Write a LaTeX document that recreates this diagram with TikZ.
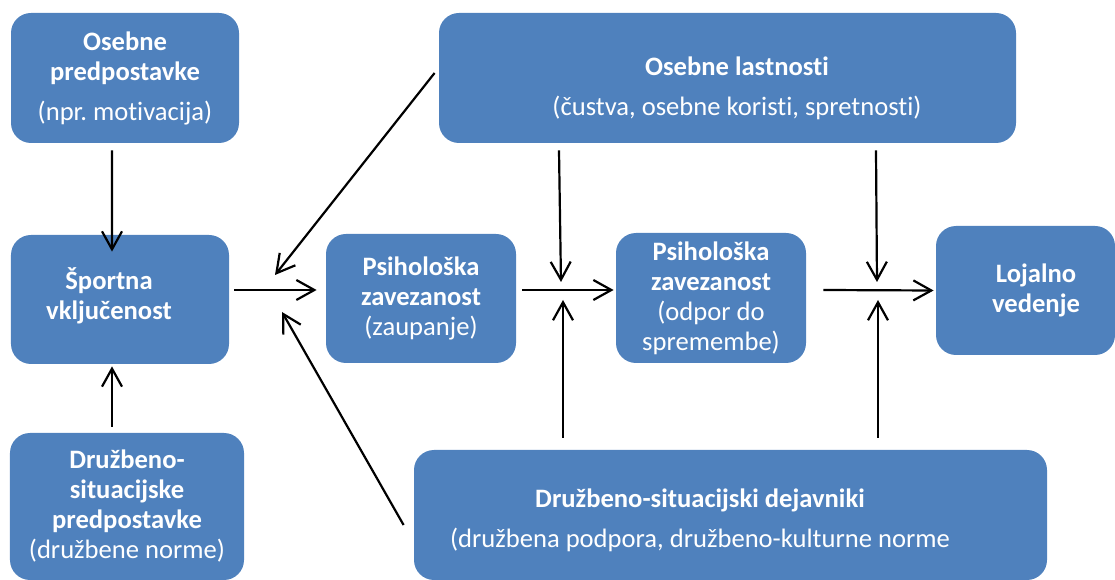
\documentclass[tikz,border=0pt]{standalone}
\usepackage{fontspec}
\setmainfont{Carlito}[Ligatures=NoCommon]
\usetikzlibrary{arrows.meta}
\definecolor{modra}{HTML}{4F81BD}

\begin{document}
\begin{tikzpicture}[x=25pt, y=25pt,
        blok/.style={fill=modra, rounded corners=10pt, text=white, align=center, font=\fontsize{13.3}{15}\selectfont},
        napis/.style={text=white, align=center, font=\fontsize{13.3}{15}\selectfont},
        puscica/.style={-{Straight Barb[length=9pt,width=10pt]}, line width=1.1pt}]
        \useasboundingbox (0,0) rectangle (22.3,11.58);

        % zgoraj
        \node[blok, minimum width=114pt, minimum height=65pt] (opred) at (2.5,10.02) {\textbf{Osebne}\\\textbf{predpostavke}\\[5pt](npr.\ motivacija)};
        \node[blok, minimum width=288.5pt, minimum height=65pt] (olast) at (14.55,10.02) {};
        \node[napis] (olastT) at (14.74,9.82) {\textbf{Osebne lastnosti}\\[5pt](čustva, osebne koristi, spretnosti)};

        % sredina
        \node[blok, minimum width=109pt, minimum height=64.5pt] (sport) at (2.4,5.59) {};
        \node[napis] (sportT) at (2.18,5.66) {\textbf{Športna}\\\textbf{vključenost}};
        \node[blok, minimum width=95pt, minimum height=64.5pt] (zav1) at (8.42,5.61) {\textbf{Psihološka}\\\textbf{zavezanost}\\(zaupanje)};
        \node[blok, minimum width=95pt, minimum height=65pt] (zav2) at (14.22,5.62) {\textbf{Psihološka}\\\textbf{zavezanost}\\(odpor do\\spremembe)};
        \node[blok, minimum width=89.5pt, minimum height=64.5pt] (lojal) at (20.51,5.77) {};
        \node[napis] (lojalT) at (20.72,5.78) {\textbf{Lojalno}\\\textbf{vedenje}};

        % spodaj
        \node[blok, minimum width=117pt, minimum height=73.5pt] (dpred) at (2.54,1.45) {\textbf{Družbeno-}\\\textbf{situacijske}\\\textbf{predpostavke}\\(družbene norme)};
        \node[blok, minimum width=316.5pt, minimum height=65pt] (dejav) at (14.61,1.28) {};
        \node[napis] (dejavT) at (14.0,1.18) {\textbf{Družbeno-situacijski dejavniki}\\[5pt](družbena podpora, družbeno-kulturne norme};

        % konci puscic
        \coordinate (t1) at (5.50,6.08);
        \coordinate (t2) at (5.64,5.34);
        \coordinate (k1) at (11.22,5.94);
        \coordinate (k2) at (11.26,5.58);
        \coordinate (k3) at (17.54,5.94);
        \coordinate (k4) at (17.56,5.58);

        \draw[puscica] ([shift={(-0.26,-0.14)}]opred.south) -- ([shift={(-0.16,-0.34)}]sport.north);
        \draw[puscica] ([shift={(-0.30,0.12)}]dpred.north) -- ([shift={(-0.16,-0.04)}]sport.south);
        \draw[puscica] ([shift={(0.10,0.19)}]sport.east) -- ([shift={(-0.18,0.17)}]zav1.west);
        \draw[puscica] ([shift={(-0.08,0.10)}]olast.west) -- (t1);
        \draw[puscica] ([shift={(-0.20,-0.20)}]dejav.west) -- (t2);
        \draw[puscica] ([shift={(0.12,0.17)}]zav1.east) -- ([shift={(-0.04,0.16)}]zav2.west);
        \draw[puscica] ([shift={(-3.37,-0.14)}]olast.south) -- (k1);
        \draw[puscica] ([shift={(-3.35,0.24)}]dejav.north) -- (k2);
        \draw[puscica] ([shift={(0.34,0.16)}]zav2.east) -- ([shift={(-0.04,0)}]lojal.west);
        \draw[puscica] ([shift={(2.97,-0.14)}]olast.south) -- (k3);
        \draw[puscica] ([shift={(2.95,0.24)}]dejav.north) -- (k4);
\end{tikzpicture}
\end{document}
